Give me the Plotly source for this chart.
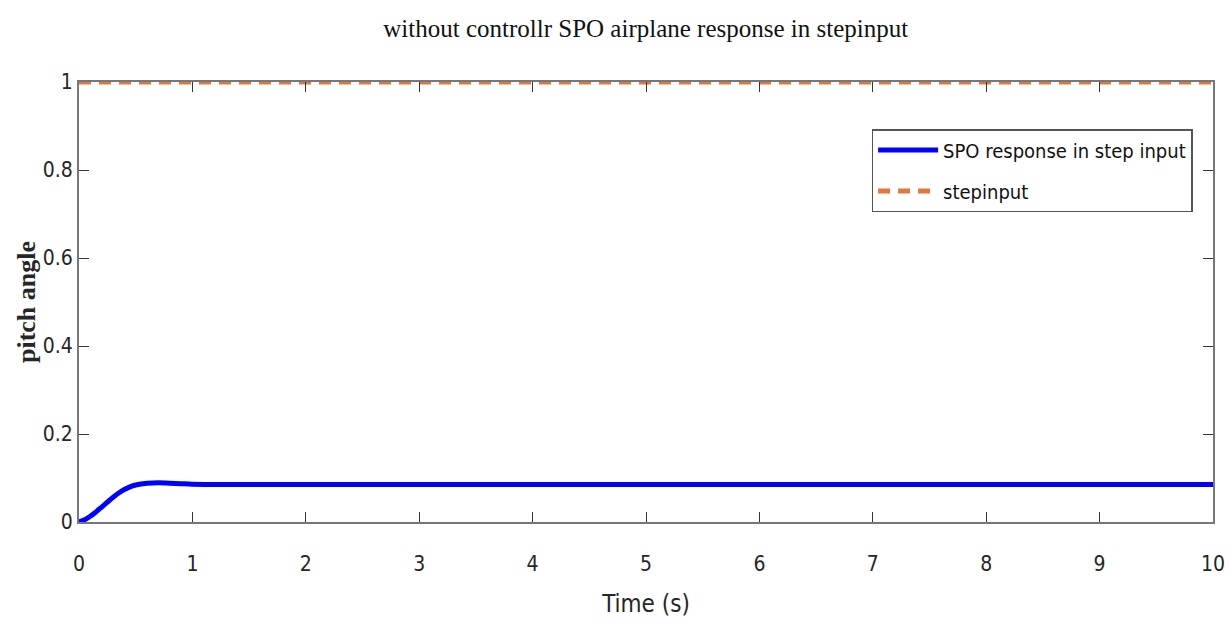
import plotly.graph_objects as go

t_resp = [0, 0.05, 0.1, 0.15, 0.2, 0.25, 0.3, 0.35, 0.4, 0.45, 0.5, 0.6, 0.7, 0.8, 0.9, 1.0, 1.2, 1.5, 2, 3, 4, 5, 6, 7, 8, 9, 10]
y_resp = [0, 0.005, 0.013, 0.023, 0.034, 0.045, 0.056, 0.066, 0.074, 0.080, 0.084, 0.088, 0.089, 0.088, 0.087, 0.086, 0.085, 0.085, 0.085, 0.085, 0.085, 0.085, 0.085, 0.085, 0.085, 0.085, 0.085]
t_step = [0, 10]
y_step = [1, 1]

x_ticks = [0, 1, 2, 3, 4, 5, 6, 7, 8, 9, 10]
y_ticks = [0, 0.2, 0.4, 0.6, 0.8, 1]
y_tick_text = ["0", "0.2", "0.4", "0.6", "0.8", "1"]

sans = "DejaVu Sans Condensed, Liberation Sans Narrow, Liberation Sans, Arial"
serif = "Liberation Serif, Times New Roman, serif"
tick_font = dict(family=sans, size=21, color="#262626")

fig = go.Figure()
fig.add_trace(go.Scatter(x=t_resp, y=y_resp, mode="lines", name="SPO response in step input",
                         legendgroup="a",
                         line=dict(color="#0000FF", width=5, shape="spline")))
fig.add_trace(go.Scatter(x=t_step, y=y_step, mode="lines", name="stepinput",
                         legendgroup="b",
                         line=dict(color="#E0773E", width=5, dash="12px,8px")))

fig.update_layout(
    width=1230, height=634,
    margin=dict(l=79, r=17, t=82, b=112, autoexpand=False),
    paper_bgcolor="white", plot_bgcolor="white",
    title=dict(text="without controllr SPO airplane response in stepinput",
               x=0.525, xanchor="center", y=0.955, yanchor="middle",
               font=dict(family=serif, size=25, color="#111111")),
    xaxis=dict(range=[0, 10], tickvals=x_ticks, ticks="inside", ticklen=10, tickcolor="#333333",
               showline=True, linecolor="#777777", linewidth=2, mirror="ticks", showgrid=False, zeroline=False,
               tickfont=tick_font, ticklabelstandoff=22, automargin=False,
               title=dict(text="Time (s)", standoff=20,
                          font=dict(family=sans, size=24, color="#262626"))),
    yaxis=dict(range=[0, 1], tickvals=y_ticks, ticktext=y_tick_text, ticks="inside", ticklen=10, tickcolor="#333333",
               showline=True, linecolor="#777777", linewidth=2, mirror="ticks", showgrid=False, zeroline=False,
               tickfont=tick_font, automargin=False,
               title=dict(text="<b>pitch angle</b>", standoff=0,
                          font=dict(family=serif, size=26, color="#262626"))),
    legend=dict(x=0.982, y=0.893, xanchor="right", yanchor="top",
                bgcolor="white", bordercolor="#555555", borderwidth=1.5,
                font=dict(family=sans, size=20, color="#111111"),
                itemwidth=60, tracegroupgap=12),
    showlegend=True,
)

fig.write_html("out.html")
